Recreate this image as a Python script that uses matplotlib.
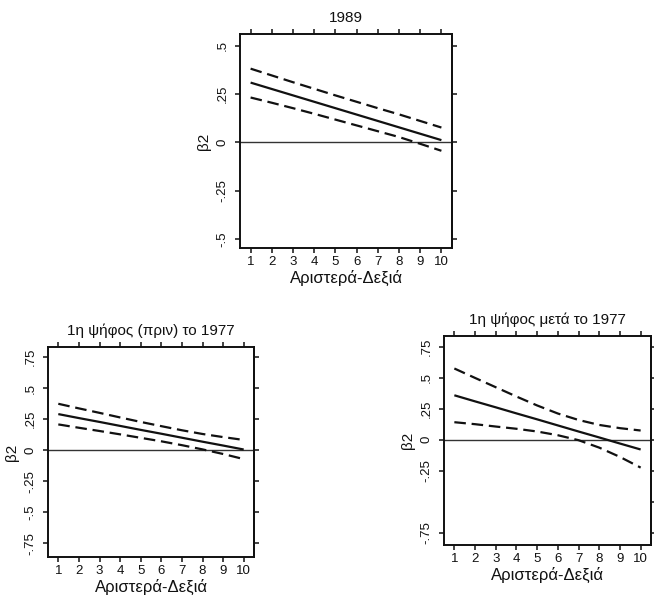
import matplotlib
matplotlib.use("Agg")
import matplotlib.pyplot as plt

plt.rcParams['font.family'] = ['Liberation Sans', 'DejaVu Sans']

x_vals = [1, 2, 3, 4, 5, 6, 7, 8, 9, 10]
x_label = "Αριστερά-Δεξιά"
y_label = "β2"

# Panel 1: 1989
title_1989 = "1989"
est_1989 = [0.309, 0.276, 0.243, 0.210, 0.177, 0.144, 0.111, 0.078, 0.045, 0.012]
up_1989 = [0.381, 0.346, 0.311, 0.277, 0.243, 0.210, 0.177, 0.145, 0.111, 0.077]
lo_1989 = [0.232, 0.205, 0.177, 0.148, 0.118, 0.088, 0.058, 0.028, -0.007, -0.043]
yticks_1989 = [-0.5, -0.25, 0, 0.25, 0.5]
ylabels_1989 = ["-.5", "-.25", "0", ".25", ".5"]

# Panel 2: 1st vote (before) 1977
title_pre = "1η ψήφος (πριν) το 1977"
est_pre = [0.290, 0.258, 0.227, 0.195, 0.163, 0.132, 0.100, 0.068, 0.037, 0.005]
up_pre = [0.373, 0.336, 0.300, 0.263, 0.227, 0.193, 0.160, 0.130, 0.105, 0.082]
lo_pre = [0.207, 0.180, 0.154, 0.127, 0.099, 0.071, 0.040, 0.006, -0.031, -0.072]
yticks_pre = [-0.75, -0.5, -0.25, 0, 0.25, 0.5, 0.75]
ylabels_pre = ["-.75", "-.5", "-.25", "0", ".25", ".5", ".75"]

# Panel 3: 1st vote after 1977
title_post = "1η ψήφος μετά το 1977"
est_post = [0.357, 0.308, 0.260, 0.211, 0.163, 0.114, 0.065, 0.017, -0.032, -0.080]
up_post = [0.573, 0.497, 0.422, 0.347, 0.275, 0.210, 0.158, 0.118, 0.092, 0.073]
lo_post = [0.140, 0.124, 0.105, 0.087, 0.065, 0.035, -0.005, -0.065, -0.140, -0.226]
yticks_post_left = [-0.75, -0.25, 0, 0.25, 0.5, 0.75]
ylabels_post_left = ["-.75", "-.25", "0", ".25", ".5", ".75"]
yticks_post_right = [-0.75, -0.5, -0.25, 0, 0.25, 0.5, 0.75]

W, H = 654, 596
fig = plt.figure(figsize=(W / 100, H / 100), dpi=100)


def px_axes(l, t, r, b):
    return fig.add_axes([l / W, 1 - b / H, (r - l) / W, (b - t) / H])


def panel(ax, title, est, up, lo, ylim, yt, yl, yt_right):
    ax.axhline(0, color="#333333", lw=1.0, zorder=1)
    ax.plot(x_vals, est, color="#111111", lw=1.6, solid_capstyle="butt", zorder=3)
    for s in (up, lo):
        ax.plot(x_vals, s, color="#111111", lw=1.6, dashes=(5.2, 2.6), zorder=3)
    ax.set_xlim(0.5, 10.5)
    ax.set_ylim(*ylim)
    ax.set_xticks(x_vals)
    ax.set_xticklabels([str(v) for v in x_vals])
    ax.set_yticks(yt)
    ax.set_yticklabels(yl, rotation=90, va="center")
    ax.tick_params(axis="x", which="both", direction="out", length=3.6, width=1.1,
                   top=True, bottom=True, labelsize=9.5, pad=2.5, colors="#111111")
    ax.tick_params(axis="y", which="both", direction="out", length=3.6, width=1.1,
                   left=True, right=False, labelsize=9.5, pad=4.5, colors="#111111")
    sec = ax.secondary_yaxis("right")
    sec.set_yticks(yt_right)
    sec.set_yticklabels([])
    sec.tick_params(direction="out", length=3.6, width=1.1, colors="#111111")
    sec.spines["right"].set_linewidth(1.4)
    sec.spines["right"].set_color("#111111")
    for sp in ax.spines.values():
        sp.set_linewidth(1.4)
        sp.set_color("#111111")
    ax.set_title(title, fontsize=11, pad=8.5, color="#111111")
    ax.set_xlabel(x_label, fontsize=12, labelpad=1, color="#111111")
    ax.set_ylabel(y_label, fontsize=11, labelpad=4.5, color="#111111")


ax1 = px_axes(240, 34, 452, 248)
panel(ax1, title_1989, est_1989, up_1989, lo_1989, (-0.545, 0.56),
      yticks_1989, ylabels_1989, yticks_1989)

ax2 = px_axes(48, 347, 254, 557)
panel(ax2, title_pre, est_pre, up_pre, lo_pre, (-0.86, 0.83),
      yticks_pre, ylabels_pre, yticks_pre)

ax3 = px_axes(444, 336, 651, 545)
panel(ax3, title_post, est_post, up_post, lo_post, (-0.85, 0.835),
      yticks_post_left, ylabels_post_left, yticks_post_right)

fig.savefig("out.png", dpi=100)
